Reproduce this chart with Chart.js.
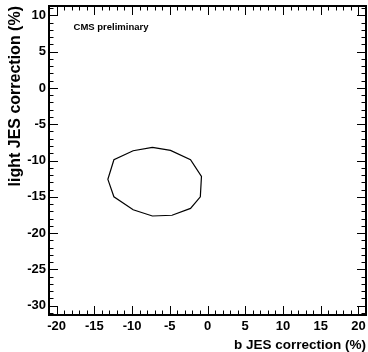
<!DOCTYPE html>
<html>
<head>
<meta charset="utf-8">
<script src="https://cdn.jsdelivr.net/npm/chart.js@4"></script>
<style>
  html, body { margin: 0; padding: 0; background: #fff; }
  #wrap { width: 368px; height: 352px; }
</style>
</head>
<body>
<div id="wrap"><canvas id="contourChart"></canvas></div>
<script>
// Contour points (b JES %, light JES %)
const contourX = [-7.3, -4.9, -2.25, -0.8, -0.95, -2.25, -4.7, -7.3, -9.85, -12.4, -13.2, -12.4, -9.85];
const contourY = [-8.2, -8.6, -9.9, -12.2, -15.0, -16.6, -17.55, -17.65, -16.8, -15.0, -12.6, -9.9, -8.65];

// Axis ranges and labelled ticks
const xRange = [-21, 21];
const yRange = [-31.3, 11.3];
const xTickLabels = [-20, -15, -10, -5, 0, 5, 10, 15, 20];
const yTickLabels = [-30, -25, -20, -15, -10, -5, 0, 5, 10];

const fontFamily = "'Liberation Sans', Arial, Helvetica, sans-serif";

// close the contour
const points = contourX.map((x, i) => ({ x: x, y: contourY[i] }));
points.push({ x: contourX[0], y: contourY[0] });

// ROOT style frame with ticks drawn inside on all four sides
const rootFrame = {
  id: 'rootFrame',
  afterDraw(chart) {
    const { ctx, chartArea: a, scales: { x, y } } = chart;
    ctx.save();
    ctx.strokeStyle = '#000';
    ctx.lineWidth = 1;
    ctx.beginPath();
    for (let v = Math.ceil(x.min); v <= Math.floor(x.max); v++) {
      const px = Math.round(x.getPixelForValue(v)) + 0.5;
      const len = v % 5 === 0 ? 9 : 4.5;
      ctx.moveTo(px, a.bottom); ctx.lineTo(px, a.bottom - len);
      ctx.moveTo(px, a.top); ctx.lineTo(px, a.top + len);
    }
    for (let v = Math.ceil(y.min); v <= Math.floor(y.max); v++) {
      const py = Math.round(y.getPixelForValue(v)) + 0.5;
      const len = v % 5 === 0 ? 9 : 4.5;
      ctx.moveTo(a.left, py); ctx.lineTo(a.left + len, py);
      ctx.moveTo(a.right, py); ctx.lineTo(a.right - len, py);
    }
    ctx.stroke();
    ctx.lineWidth = 2;
    ctx.strokeRect(a.left, a.top, a.right - a.left, a.bottom - a.top);

    ctx.fillStyle = '#000';
    ctx.font = 'bold 9.5px ' + fontFamily;
    ctx.textAlign = 'left';
    ctx.textBaseline = 'middle';
    ctx.fillText('CMS preliminary', x.getPixelForValue(-17.75), y.getPixelForValue(8.4));
    ctx.restore();
  }
};

new Chart(document.getElementById('contourChart'), {
  type: 'scatter',
  data: {
    datasets: [{
      data: points,
      showLine: true,
      borderColor: '#000',
      borderWidth: 1.2,
      pointRadius: 0,
      tension: 0,
      fill: false
    }]
  },
  options: {
    responsive: true,
    maintainAspectRatio: false,
    animation: false,
    layout: { padding: { top: 6, right: 2, left: 0, bottom: 0 } },
    plugins: {
      legend: { display: false },
      tooltip: { enabled: false }
    },
    scales: {
      x: {
        type: 'linear',
        min: xRange[0],
        max: xRange[1],
        grid: { display: false, drawTicks: false },
        border: { display: false },
        afterBuildTicks: s => { s.ticks = xTickLabels.map(v => ({ value: v })); },
        afterFit: s => { s.height = 37; s.paddingLeft = 0; s.paddingRight = 0; },
        ticks: {
          autoSkip: false,
          maxRotation: 0,
          padding: 4,
          color: '#000',
          font: { family: fontFamily, size: 13, weight: 'bold' }
        },
        title: {
          display: true,
          text: 'b JES correction (%)',
          align: 'end',
          color: '#000',
          padding: { top: 0, bottom: 0 },
          font: { family: fontFamily, size: 13.5, weight: 'bold', lineHeight: 1 }
        }
      },
      y: {
        type: 'linear',
        min: yRange[0],
        max: yRange[1],
        grid: { display: false, drawTicks: false },
        border: { display: false },
        afterBuildTicks: s => { s.ticks = yTickLabels.map(v => ({ value: v })); },
        afterFit: s => { s.width = 49; s.paddingTop = 0; s.paddingBottom = 0; },
        ticks: {
          autoSkip: false,
          padding: 3,
          color: '#000',
          font: { family: fontFamily, size: 13, weight: 'bold' }
        },
        title: {
          display: true,
          text: 'light JES correction (%)',
          align: 'end',
          color: '#000',
          padding: { top: 6, bottom: 0 },
          font: { family: fontFamily, size: 16, weight: 'bold', lineHeight: 1.2 }
        }
      }
    }
  },
  plugins: [rootFrame]
});
</script>
</body>
</html>
